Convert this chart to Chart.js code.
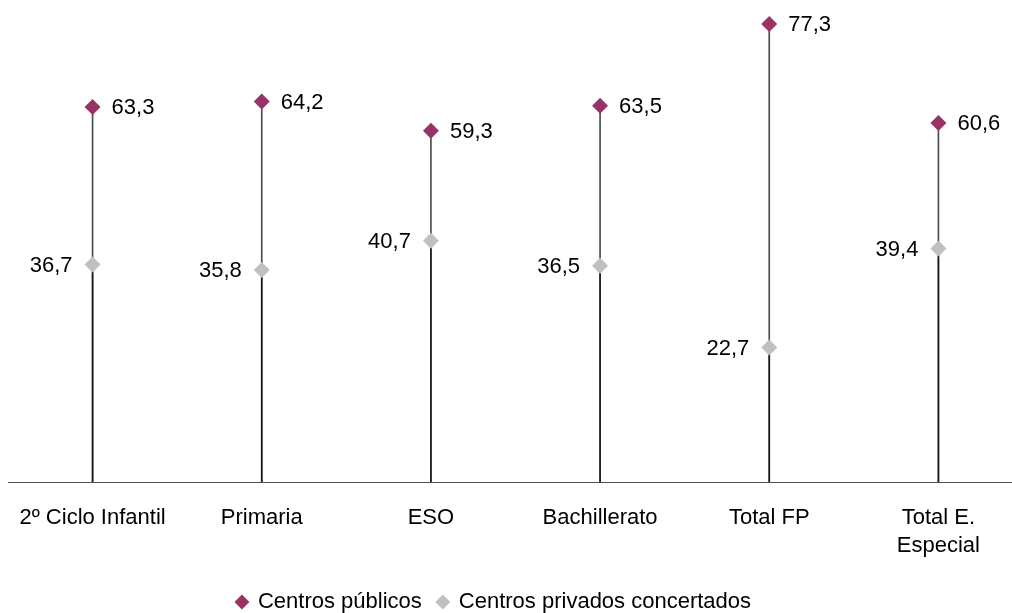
<!DOCTYPE html>
<html>
<head>
<meta charset="utf-8">
<script src="https://cdn.jsdelivr.net/npm/chart.js@4"></script>
<style>
  html, body { margin: 0; padding: 0; background: #fff; overflow: hidden; }
  canvas { display: block; }
</style>
</head>
<body>
<canvas id="chart" width="1031" height="613"></canvas>
<script>
// categorías y valores (%)
const categorias = ['2º Ciclo Infantil', 'Primaria', 'ESO', 'Bachillerato', 'Total FP', ['Total E.', 'Especial']];
const publicos = [63.3, 64.2, 59.3, 63.5, 77.3, 60.6];
const privados = [36.7, 35.8, 40.7, 36.5, 22.7, 39.4];

const FONT = "'Liberation Sans', Arial, sans-serif";

// etiquetas de valores junto a cada punto
const valueLabels = {
    id: 'valueLabels',
    afterDatasetsDraw(chart) {
        const ctx = chart.ctx;
        ctx.save();
        ctx.font = '22px ' + FONT;
        ctx.fillStyle = '#000';
        ctx.textBaseline = 'middle';
        chart.data.datasets.forEach((ds, i) => {
            if (ds.type !== 'line') return;
            const meta = chart.getDatasetMeta(i);
            meta.data.forEach((pt, j) => {
                const txt = ds.data[j].toFixed(1).replace('.', ',');
                if (ds.labelSide === 'right') {
                    ctx.textAlign = 'left';
                    ctx.fillText(txt, pt.x + 19, pt.y + 1);
                } else {
                    ctx.textAlign = 'right';
                    ctx.fillText(txt, pt.x - 20, pt.y + 1);
                }
            });
        });
        ctx.restore();
    }
};

// la leyenda del original está algo desplazada a la izquierda
const legendShift = {
    id: 'legendShift',
    afterLayout(chart) {
        if (!chart.legend) return;
        chart.legend.left -= 25;
        chart.legend.right -= 25;
    }
};

new Chart(document.getElementById('chart'), {
    data: {
        labels: categorias,
        datasets: [
            {
                type: 'line',
                label: 'Centros públicos',
                data: publicos,
                showLine: false,
                pointStyle: 'rectRot',
                pointRadius: 8,
                pointHoverRadius: 8,
                pointBorderWidth: 0,
                backgroundColor: '#993366',
                borderColor: '#993366',
                labelSide: 'right',
                clip: false,
                order: 1
            },
            {
                type: 'line',
                label: 'Centros privados concertados',
                data: privados,
                showLine: false,
                pointStyle: 'rectRot',
                pointRadius: 8,
                pointHoverRadius: 8,
                pointBorderWidth: 0,
                backgroundColor: '#C0C0C0',
                borderColor: '#C0C0C0',
                labelSide: 'left',
                clip: false,
                order: 1
            },
            {
                type: 'bar',
                label: 'drop1',
                data: publicos,
                backgroundColor: 'rgba(0,0,0,0.7)',
                barThickness: 1,
                grouped: false,
                order: 2
            },
            {
                type: 'bar',
                label: 'drop2',
                data: privados,
                backgroundColor: 'rgba(0,0,0,0.7)',
                barThickness: 1,
                grouped: false,
                order: 2
            }
        ]
    },
    options: {
        responsive: false,
        animation: false,
        layout: { padding: { top: 6, left: 7, right: 0, bottom: -10 } },
        scales: {
            x: {
                offset: true,
                grid: { display: false, drawTicks: false },
                border: { color: '#505050', width: 1 },
                ticks: {
                    color: '#000',
                    padding: 22,
                    maxRotation: 0,
                    autoSkip: false,
                    font: { family: FONT, size: 22, lineHeight: 1.28 }
                },
                afterFit(scale) {
                    scale.height = 93;
                    scale.paddingLeft = 0;
                    scale.paddingRight = 0;
                }
            },
            y: {
                display: false,
                min: 0,
                max: 80
            }
        },
        plugins: {
            legend: {
                position: 'bottom',
                labels: {
                    usePointStyle: true,
                    boxWidth: 10,
                    boxHeight: 10.6,
                    padding: 16,
                    color: '#000',
                    font: { family: FONT, size: 22 },
                    filter: item => !item.text.startsWith('drop')
                }
            },
            tooltip: { enabled: false }
        }
    },
    plugins: [valueLabels, legendShift]
});
</script>
</body>
</html>
